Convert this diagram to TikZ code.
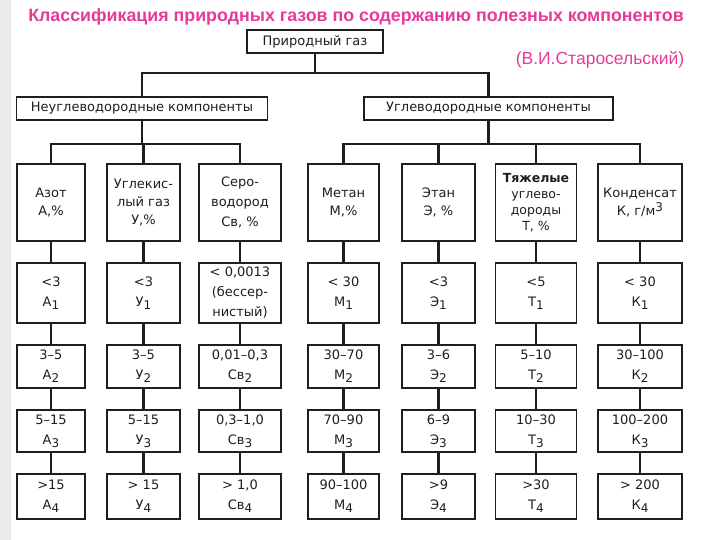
\documentclass[tikz,border=0pt]{standalone}
\usepackage{fontspec}
\setmainfont{Liberation Sans}
\newfontfamily\boxfont{DejaVu Sans}
\definecolor{titlepink}{RGB}{228,58,152}
\definecolor{ink}{RGB}{30,30,30}
\newcommand\sbd[1]{\raisebox{-0.45ex}{\fontsize{12}{12}\selectfont #1}}
\newcommand\spd[1]{\raisebox{0.6ex}{\fontsize{12}{12}\selectfont #1}}
\begin{document}
\begin{tikzpicture}[x=1pt,y=-1pt,
  box/.style={draw=ink, line width=1.7pt, inner sep=0pt, align=center, text=ink,
    font=\boxfont\fontsize{13}{18}\selectfont},
  rowA/.style={minimum height=77pt},
  rowB/.style={minimum height=60pt, font=\boxfont\fontsize{13}{20}\selectfont},
  rowC/.style={minimum height=43pt, font=\boxfont\fontsize{13}{20}\selectfont},
  rowD/.style={minimum height=42pt, font=\boxfont\fontsize{13}{20}\selectfont},
  rowE/.style={minimum height=45pt, font=\boxfont\fontsize{13}{20}\selectfont},
  conn/.style={draw=ink, line width=2.2pt}]
\useasboundingbox (0,0) rectangle (720,540);
\fill[black!8] (0,0) rectangle (11,540);

% titles
\node[font=\bfseries\fontsize{17.8}{19}\selectfont, text=titlepink] (title) at (356,17)
  {Классификация природных газов по содержанию полезных компонентов};
\node[font=\fontsize{17.5}{19}\selectfont, text=titlepink] (author) at (600,60)
  {(В.И.Старосельский)};

% top levels
\node[box, minimum width=136pt, minimum height=23pt] (root) at (315,41.5) {Природный газ};
\node[box, minimum width=251pt, minimum height=23pt] (neu) at (142,108.5) {Неуглеводородные компоненты};
\node[box, minimum width=249pt, minimum height=23pt] (ugl) at (488.5,108.5) {Углеводородные компоненты};

% row 1
\node[box,rowA,minimum width=68pt] (a1) at (51,202.5) {Азот\\А,\%};
\node[box,rowA,minimum width=73pt] (u1) at (143.5,202.5) {Углекис-\\лый газ\\У,\%};
\node[box,rowA,minimum width=82pt,font=\boxfont\fontsize{13}{20}\selectfont] (s1) at (240,202.5) {Серо-\\водород\\Св, \%};
\node[box,rowA,minimum width=71pt] (m1) at (343.5,202.5) {Метан\\М,\%};
\node[box,rowA,minimum width=73pt] (e1) at (438.5,202.5) {Этан\\Э, \%};
\node[box,rowA,minimum width=81pt,font=\boxfont\fontsize{12.5}{16}\selectfont] (t1) at (536,202.5) {\textbf{Тяжелые}\\углево-\\дороды\\Т, \%};
\node[box,rowA,minimum width=84pt] (k1) at (640,202.5) {Конденсат\\К, г/м\spd{3}};

% row 2
\node[box,rowB,minimum width=68pt] (a2) at (51,293) {<3\\А\sbd{1}};
\node[box,rowB,minimum width=73pt] (u2) at (143.5,293) {<3\\У\sbd{1}};
\node[box,rowB,minimum width=82pt] (s2) at (240,293) {< 0,0013\\(бессер-\\нистый)};
\node[box,rowB,minimum width=71pt] (m2) at (343.5,293) {< 30\\М\sbd{1}};
\node[box,rowB,minimum width=73pt] (e2) at (438.5,293) {<3\\Э\sbd{1}};
\node[box,rowB,minimum width=81pt] (t2) at (536,293) {<5\\Т\sbd{1}};
\node[box,rowB,minimum width=84pt] (k2) at (640,293) {< 30\\К\sbd{1}};

% row 3
\node[box,rowC,minimum width=68pt] (a3) at (51,366.5) {3–5\\А\sbd{2}};
\node[box,rowC,minimum width=73pt] (u3) at (143.5,366.5) {3–5\\У\sbd{2}};
\node[box,rowC,minimum width=82pt] (s3) at (240,366.5) {0,01–0,3\\Св\sbd{2}};
\node[box,rowC,minimum width=71pt] (m3) at (343.5,366.5) {30–70\\М\sbd{2}};
\node[box,rowC,minimum width=73pt] (e3) at (438.5,366.5) {3–6\\Э\sbd{2}};
\node[box,rowC,minimum width=81pt] (t3) at (536,366.5) {5–10\\Т\sbd{2}};
\node[box,rowC,minimum width=84pt] (k3) at (640,366.5) {30–100\\К\sbd{2}};

% row 4
\node[box,rowD,minimum width=68pt] (a4) at (51,431) {5–15\\А\sbd{3}};
\node[box,rowD,minimum width=73pt] (u4) at (143.5,431) {5–15\\У\sbd{3}};
\node[box,rowD,minimum width=82pt] (s4) at (240,431) {0,3–1,0\\Св\sbd{3}};
\node[box,rowD,minimum width=71pt] (m4) at (343.5,431) {70–90\\М\sbd{3}};
\node[box,rowD,minimum width=73pt] (e4) at (438.5,431) {6–9\\Э\sbd{3}};
\node[box,rowD,minimum width=81pt] (t4) at (536,431) {10–30\\Т\sbd{3}};
\node[box,rowD,minimum width=84pt] (k4) at (640,431) {100–200\\К\sbd{3}};

% row 5
\node[box,rowE,minimum width=68pt] (a5) at (51,496.5) {>15\\А\sbd{4}};
\node[box,rowE,minimum width=73pt] (u5) at (143.5,496.5) {> 15\\У\sbd{4}};
\node[box,rowE,minimum width=82pt] (s5) at (240,496.5) {> 1,0\\Св\sbd{4}};
\node[box,rowE,minimum width=71pt] (m5) at (343.5,496.5) {90–100\\М\sbd{4}};
\node[box,rowE,minimum width=73pt] (e5) at (438.5,496.5) {>9\\Э\sbd{4}};
\node[box,rowE,minimum width=81pt] (t5) at (536,496.5) {>30\\Т\sbd{4}};
\node[box,rowE,minimum width=84pt] (k5) at (640,496.5) {> 200\\К\sbd{4}};

% connectors
\draw[conn] (root.south) -- (root.south |- 0,73) -| (neu.north);
\draw[conn] (root.south |- 0,73) -| (ugl.north);
\draw[conn] (neu.south) -- (neu.south |- 0,144) -| (a1.north);
\draw[conn] (neu.south |- 0,144) -| (u1.north);
\draw[conn] (neu.south |- 0,144) -| (s1.north);
\draw[conn] (ugl.south) -- (ugl.south |- 0,144) -| (m1.north);
\draw[conn] (ugl.south |- 0,144) -| (e1.north);
\draw[conn] (ugl.south |- 0,144) -| (t1.north);
\draw[conn] (ugl.south |- 0,144) -| (k1.north);
\foreach \c in {a,u,s,m,e,t,k}{
  \draw[conn] (\c1) -- (\c2);
  \draw[conn] (\c2) -- (\c3);
  \draw[conn] (\c3) -- (\c4);
  \draw[conn] (\c4) -- (\c5);
}
\end{tikzpicture}
\end{document}
